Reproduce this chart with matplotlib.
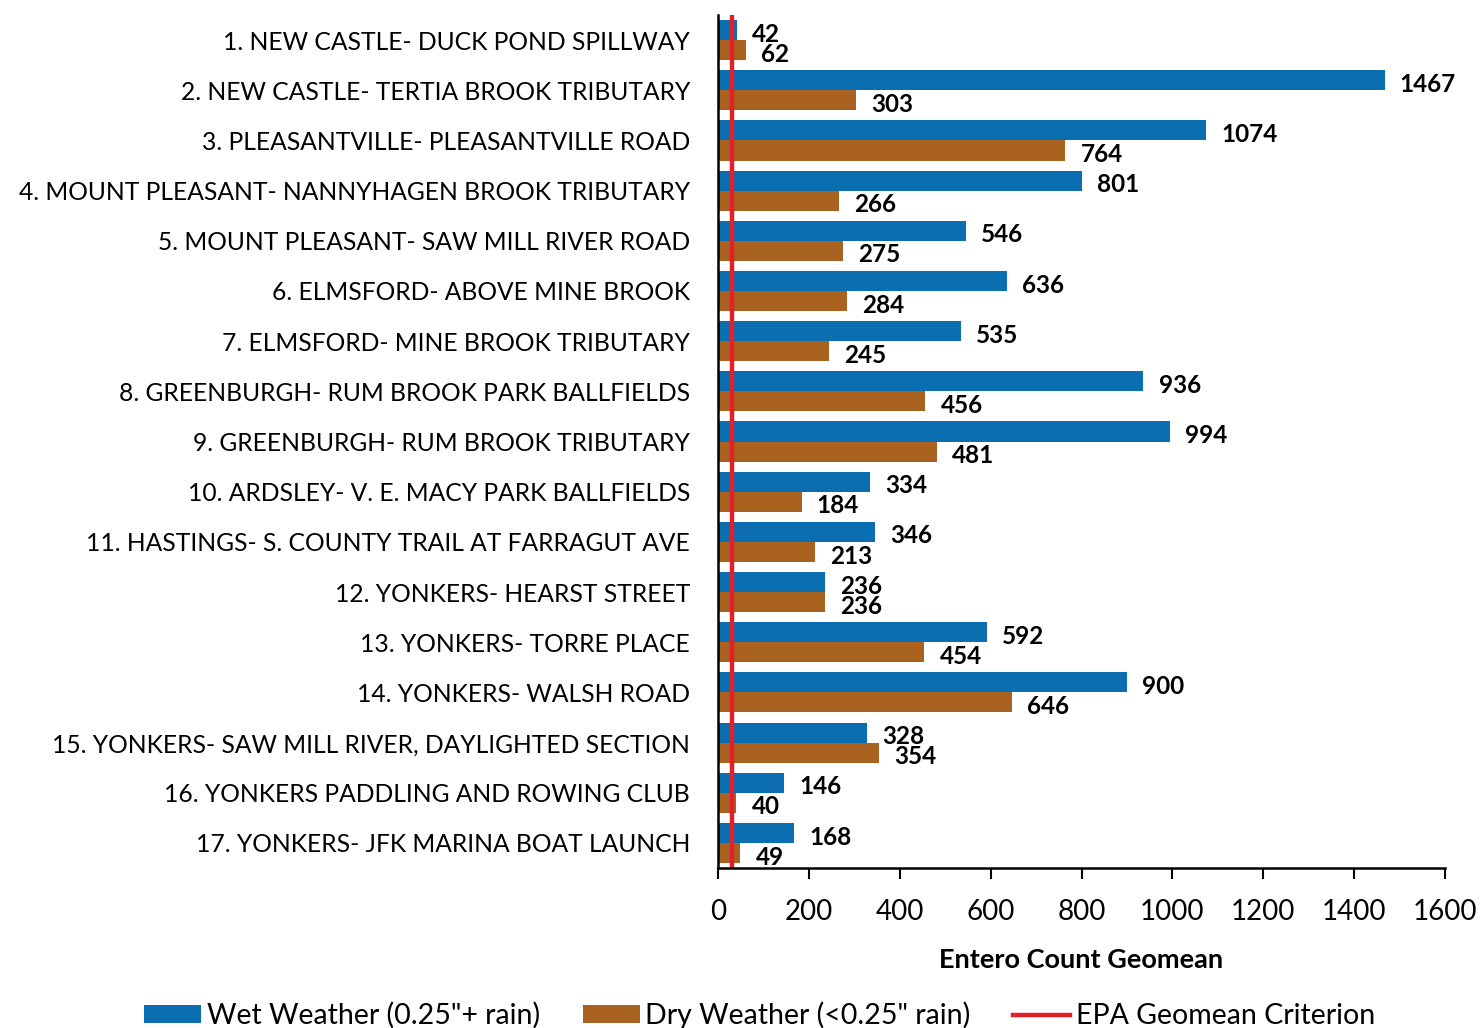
import numpy as np
import matplotlib.pyplot as plt

plt.rcParams['font.family'] = ['Lato', 'DejaVu Sans']

sites = [
    '1. NEW CASTLE- DUCK POND SPILLWAY',
    '2. NEW CASTLE- TERTIA BROOK TRIBUTARY',
    '3. PLEASANTVILLE- PLEASANTVILLE ROAD',
    '4. MOUNT PLEASANT- NANNYHAGEN BROOK TRIBUTARY',
    '5. MOUNT PLEASANT- SAW MILL RIVER ROAD',
    '6. ELMSFORD- ABOVE MINE BROOK',
    '7. ELMSFORD- MINE BROOK TRIBUTARY',
    '8. GREENBURGH- RUM BROOK PARK BALLFIELDS',
    '9. GREENBURGH- RUM BROOK TRIBUTARY',
    '10. ARDSLEY- V. E. MACY PARK BALLFIELDS',
    '11. HASTINGS- S. COUNTY TRAIL AT FARRAGUT AVE',
    '12. YONKERS- HEARST STREET',
    '13. YONKERS- TORRE PLACE',
    '14. YONKERS- WALSH ROAD',
    '15. YONKERS- SAW MILL RIVER, DAYLIGHTED SECTION',
    '16. YONKERS PADDLING AND ROWING CLUB',
    '17. YONKERS- JFK MARINA BOAT LAUNCH',
]
wet = [42, 1467, 1074, 801, 546, 636, 535, 936, 994, 334, 346, 236, 592, 900, 328, 146, 168]
dry = [62, 303, 764, 266, 275, 284, 245, 456, 481, 184, 213, 236, 454, 646, 354, 40, 49]
epa_criterion = 30
xticks = [0, 200, 400, 600, 800, 1000, 1200, 1400, 1600]

blue = '#0A6EB1'
brown = '#A8611F'
red = '#E3202A'

fig = plt.figure(figsize=(14.81, 10.28), dpi=100)
ax = fig.add_axes([0.4848, 0.1556, 0.4909, 0.8298])

y = np.arange(len(sites))
h = 0.4
b1 = ax.barh(y - h/2, wet, height=h, color=blue, label='Wet Weather (0.25"+ rain)')
b2 = ax.barh(y + h/2, dry, height=h, color=brown, label='Dry Weather (<0.25" rain)')
ln = ax.axvline(epa_criterion, color=red, lw=3.2, label='EPA Geomean Criterion')

# value labels
for i in range(len(sites)):
    ax.annotate(str(wet[i]), (wet[i], y[i] - h/2), xytext=(11, -1.5), textcoords='offset points',
                va='center_baseline', ha='left', fontsize=17.5, fontweight='bold')
    ax.annotate(str(dry[i]), (dry[i], y[i] + h/2), xytext=(11, -1.5), textcoords='offset points',
                va='center_baseline', ha='left', fontsize=17.5, fontweight='bold')

ax.set_ylim(len(sites) - 0.5, -0.5)
ax.set_xlim(0, 1600)
ax.set_yticks(y)
ax.set_yticklabels(sites, fontsize=17.7)
ax.set_xticks(xticks)
ax.tick_params(axis='x', labelsize=20, length=8, width=1.5, pad=14)
ax.tick_params(axis='y', length=0, pad=20)
ax.spines['top'].set_visible(False)
ax.spines['right'].set_visible(False)
ax.spines['left'].set_linewidth(1.8)
ax.spines['bottom'].set_linewidth(1.8)
ax.set_xlabel('Entero Count Geomean', fontsize=19.5, fontweight='bold', labelpad=17)

fig.legend([b1, b2, ln], [b1.get_label(), b2.get_label(), ln.get_label()],
           loc='lower center', bbox_to_anchor=(0.513, -0.026), ncol=3, frameon=False,
           fontsize=20.5, handlelength=2.0, handleheight=0.6, handletextpad=0.2, columnspacing=1.5)

fig.savefig('out.png', dpi=100)
